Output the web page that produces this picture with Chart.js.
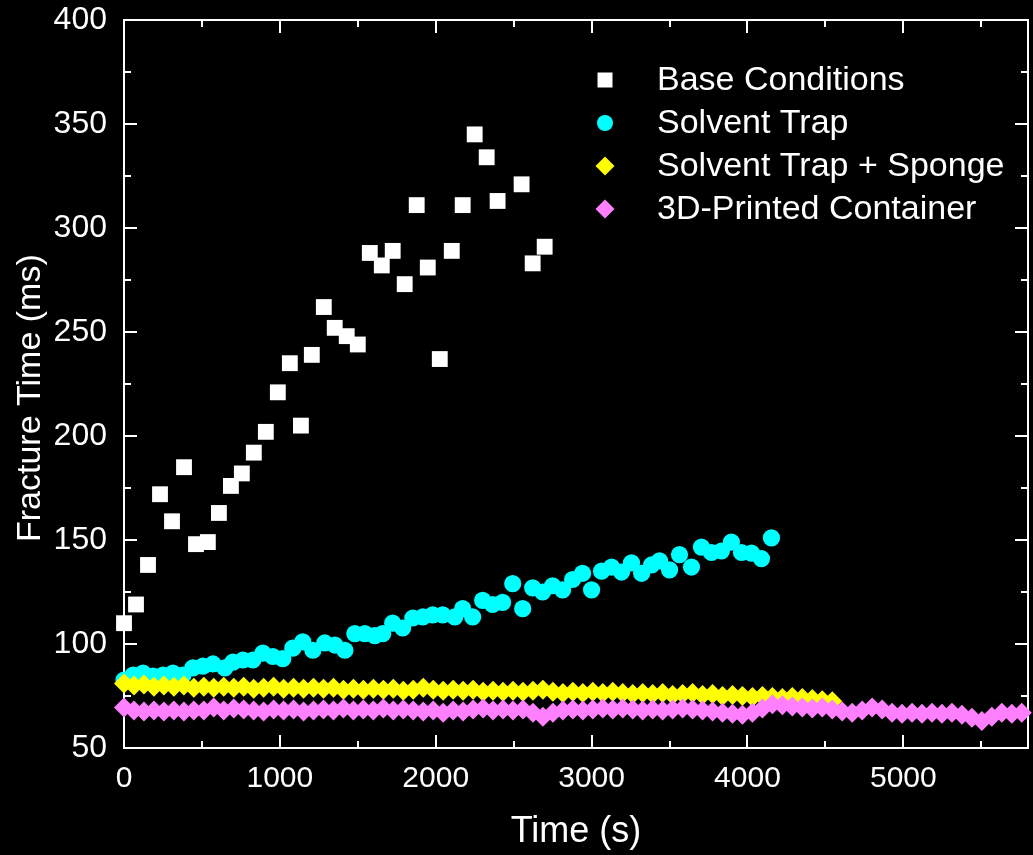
<!DOCTYPE html>
<html>
<head>
<meta charset="utf-8">
<script src="https://cdn.jsdelivr.net/npm/chart.js@4.4.1/dist/chart.umd.min.js"></script>
<style>
  html, body { margin: 0; padding: 0; background: #000; }
  #wrap { width: 1033px; height: 855px; }
</style>
</head>
<body>
<div id="wrap"><canvas id="c" width="1033" height="855"></canvas></div>
<script>
// ---- Data ----
const seriesNames = ["Base Conditions", "Solvent Trap", "Solvent Trap + Sponge", "3D-Printed Container"];

const baseX = [0,77,154,231,308,385,462,538,609,686,756,833,910,987,1064,1135,1205,1282,1352,1429,1500,1577,1654,1724,1801,1878,1949,2026,2103,2173,2250,2327,2397,2551,2622,2699];
const baseY = [110,119,138,172,159,185,148,149,163,176,182,192,202,221,235,205,239,262,252,248,244,288,282,289,273,311,281,237,289,311,345,334,313,321,283,291];

const trapX = [0,58,122,186,250,314,378,442,506,571,647,699,763,827,891,955,1019,1083,1147,1212,1288,1353,1417,1481,1545,1609,1660,1724,1788,1853,1917,1981,2045,2122,2173,2237,2301,2365,2429,2494,2558,2622,2686,2750,2814,2878,2942,3000,3064,3128,3192,3256,3321,3385,3436,3500,3564,3641,3705,3769,3833,3897,3962,4026,4090,4154];
const trapY = [82.7,85,86,84.6,85,86,85,88.5,89.4,90.4,88.5,91.3,92.3,92.3,95.6,94,93,98,101,97,100.5,99.5,97,105,105,104,105,110,107.7,112.5,113,114,114,113,117,113,121,119,120,129,117,127,125,128,126,131,134,126,135,137,134.6,139,134,138,140,135.6,143,137,146.6,144,144.7,149,144,143.7,141,151];

const spongeX = [0,64,128,192,256,320,384,448,512,576,640,704,768,832,896,960,1024,1088,1152,1216,1280,1344,1408,1472,1536,1600,1664,1728,1792,1856,1920,1984,2048,2112,2176,2240,2304,2368,2432,2496,2560,2624,2688,2752,2816,2880,2944,3008,3072,3136,3200,3264,3328,3392,3456,3520,3584,3648,3712,3776,3840,3904,3968,4032,4096,4160,4224,4288,4352,4416,4480,4544];
const spongeY = [81,80,80.5,79.5,80,79.5,80,79,79.5,79,79.5,79,79.5,78.5,79,79.5,78.5,79,78.5,79,78.5,79,78,78.5,78,78.5,78,78.5,77.5,78,79,78,77.5,78,77.5,78,77,77.5,77,77.5,77,77.5,78,77,76.5,77,76.5,77,76.5,77,76.5,76,76.5,76,76.5,75.5,76,76.5,75.5,76,75,75.5,75,74.5,75,74.5,74,74.5,74,73.5,73,72.5];

const printedX = [0,64,128,192,256,320,384,448,512,576,640,704,768,832,896,960,1024,1088,1152,1216,1280,1344,1408,1472,1536,1600,1664,1728,1792,1856,1920,1984,2048,2112,2176,2240,2304,2368,2432,2496,2560,2624,2688,2752,2816,2880,2944,3008,3072,3136,3200,3264,3328,3392,3456,3520,3584,3648,3712,3776,3840,3904,3968,4032,4096,4160,4224,4288,4352,4416,4480,4544,4608,4672,4736,4800,4864,4928,4992,5056,5120,5184,5248,5312,5376,5440,5504,5568,5632,5696,5760];
const printedY = [69.5,68,67.5,68,67.5,68,67.5,68,68,69.5,68,69,68.5,68,67.5,68.5,68,68.5,67.5,68,68.5,68,69,68,68.5,68,69,68,68.5,68,67.5,68,67,68,67.5,68.5,69,68,68.5,68,68.5,67,65,67,68,68.5,68,68.5,69,68.5,69,68.5,68,68.5,68,68.5,69,68.5,68,67.5,67,66.5,66,67,69,71,70.5,70,69.5,69,69.5,68.5,67.5,67,68,69.5,68.5,67,66.5,67,66.5,67,66.5,67,66,64.5,63,65,67,66.5,67];

const xMajorTicks = [0,1000,2000,3000,4000,5000];
const xMinorTicks = [500,1500,2500,3500,4500,5500];
const yMajorTicks = [50,100,150,200,250,300,350,400];
const yMinorTicks = [75,125,175,225,275,325,375];

// ---- Helpers ----
function pts(xs, ys) { return xs.map((x, i) => ({ x: x, y: ys[i] })); }
const FONT = "'Liberation Sans', Arial, sans-serif";

const datasets = [
  { label: seriesNames[0], data: pts(baseX, baseY), pointStyle: 'rect', pointRadius: 11.2, backgroundColor: '#ffffff', borderWidth: 0, order: 4 },
  { label: seriesNames[1], data: pts(trapX, trapY), pointStyle: 'circle', pointRadius: 8.6, backgroundColor: '#00ffff', borderWidth: 0, order: 3 },
  { label: seriesNames[2], data: pts(spongeX, spongeY), pointStyle: 'rectRot', pointRadius: 10, backgroundColor: '#ffff00', borderWidth: 0, order: 2 },
  { label: seriesNames[3], data: pts(printedX, printedY), pointStyle: 'rectRot', pointRadius: 10, backgroundColor: '#ff80ff', borderWidth: 0, order: 1 }
];
datasets.forEach(d => { d.pointHoverRadius = d.pointRadius; d.showLine = false; d.clip = false; });

// frame + inward ticks (drawn below the points)
const framePlugin = {
  id: 'frame',
  beforeDatasetsDraw(chart) {
    const ctx = chart.ctx, a = chart.chartArea;
    const xs = chart.scales.x, ys = chart.scales.y;
    ctx.save();
    ctx.strokeStyle = '#ffffff';
    ctx.lineWidth = 2;
    ctx.strokeRect(a.left, a.top, a.right - a.left, a.bottom - a.top);
    ctx.beginPath();
    const tick = (vals, len) => {
      vals.forEach(v => {
        const px = Math.round(xs.getPixelForValue(v));
        ctx.moveTo(px, a.bottom); ctx.lineTo(px, a.bottom - len);
        ctx.moveTo(px, a.top); ctx.lineTo(px, a.top + len);
      });
    };
    const ticky = (vals, len) => {
      vals.forEach(v => {
        const py = Math.round(ys.getPixelForValue(v));
        ctx.moveTo(a.left, py); ctx.lineTo(a.left + len, py);
        ctx.moveTo(a.right, py); ctx.lineTo(a.right - len, py);
      });
    };
    tick(xMajorTicks, 13); tick(xMinorTicks, 7);
    ticky(yMajorTicks, 13); ticky(yMinorTicks, 7);
    ctx.stroke();
    ctx.restore();
  }
};

// legend inside plot area
const legendPlugin = {
  id: 'insideLegend',
  afterDatasetsDraw(chart) {
    const ctx = chart.ctx;
    const mx = 605, tx = 657, y0 = 80, dy = 43;
    ctx.save();
    chart.data.datasets.forEach((ds, i) => {
      const y = y0 + i * dy;
      ctx.fillStyle = ds.backgroundColor;
      ctx.beginPath();
      if (ds.pointStyle === 'rect') {
        ctx.rect(mx - 7.5, y - 7.5, 15, 15);
      } else if (ds.pointStyle === 'circle') {
        ctx.arc(mx, y, 8, 0, Math.PI * 2);
      } else {
        ctx.moveTo(mx - 9.5, y); ctx.lineTo(mx, y - 9.5); ctx.lineTo(mx + 9.5, y); ctx.lineTo(mx, y + 9.5); ctx.closePath();
      }
      ctx.fill();
      ctx.fillStyle = '#ffffff';
      ctx.font = '34px ' + FONT;
      ctx.textAlign = 'left';
      ctx.textBaseline = 'middle';
      ctx.fillText(ds.label, tx, y + 1);
    });
    ctx.restore();
  }
};

function noPad(s) { s.paddingTop = 0; s.paddingBottom = 0; s.paddingLeft = 0; s.paddingRight = 0; }

new Chart(document.getElementById('c'), {
  type: 'scatter',
  data: { datasets: datasets },
  options: {
    responsive: false,
    animation: false,
    events: [],
    layout: { autoPadding: false, padding: { top: 20, right: 5, left: 0, bottom: 0 } },
    plugins: { legend: { display: false }, tooltip: { enabled: false } },
    scales: {
      x: {
        type: 'linear', min: 0, max: 5800,
        afterBuildTicks: s => { s.ticks = xMajorTicks.map(v => ({ value: v })); },
        afterFit: s => { s.height = 107; noPad(s); },
        grid: { display: false, drawTicks: false },
        border: { display: false },
        ticks: { color: '#ffffff', font: { family: FONT, size: 30 }, padding: 13, maxRotation: 0, autoSkip: false, callback: v => String(v) },
        title: { display: true, text: 'Time (s)', color: '#ffffff', font: { family: FONT, size: 36 }, padding: { top: 0, bottom: 1 } }
      },
      y: {
        type: 'linear', min: 50, max: 400,
        afterBuildTicks: s => { s.ticks = yMajorTicks.map(v => ({ value: v })); },
        afterFit: s => { s.width = 124; noPad(s); },
        grid: { display: false, drawTicks: false },
        border: { display: false },
        ticks: { color: '#ffffff', font: { family: FONT, size: 32 }, padding: 17, callback: v => String(v) },
        title: { display: true, text: 'Fracture Time (ms)   ', color: '#ffffff', font: { family: FONT, size: 34 }, padding: { top: 10, bottom: 0 } }
      }
    }
  },
  plugins: [framePlugin, legendPlugin]
});
</script>
</body>
</html>
